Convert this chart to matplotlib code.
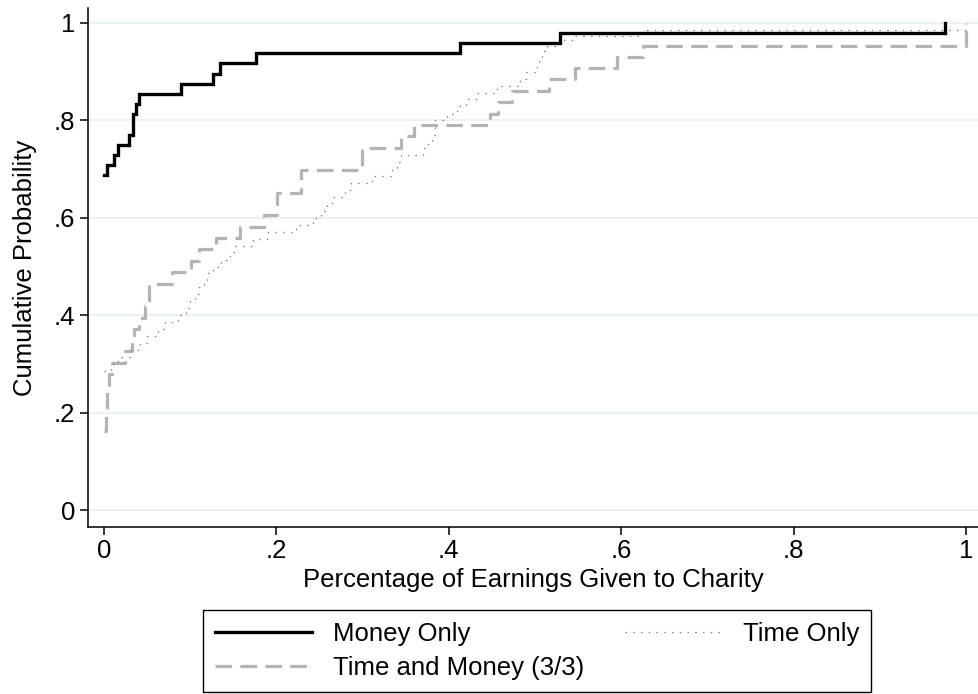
import matplotlib

matplotlib.use("Agg")
import matplotlib.pyplot as plt
from matplotlib.lines import Line2D

plt.rcParams["font.family"] = ["Liberation Sans", "DejaVu Sans"]

money_x = [0.000, 0.004, 0.011, 0.016, 0.029, 0.034, 0.037, 0.041, 0.089,
           0.126, 0.135, 0.176, 0.413, 0.529, 0.976]
money_y = [0.688, 0.708, 0.729, 0.750, 0.771, 0.813, 0.833, 0.854, 0.875,
           0.896, 0.917, 0.938, 0.958, 0.979, 1.000]

time_x = [0.000, 0.008, 0.016, 0.030, 0.042, 0.050, 0.063, 0.071, 0.086, 0.095,
          0.100, 0.106, 0.110, 0.116, 0.120, 0.126, 0.136, 0.146, 0.152, 0.173,
          0.189, 0.223, 0.243, 0.252, 0.259, 0.264, 0.280, 0.286, 0.311, 0.334,
          0.340, 0.345, 0.370, 0.376, 0.380, 0.384, 0.398, 0.410, 0.420, 0.433,
          0.456, 0.482, 0.490, 0.502, 0.505, 0.508, 0.514, 0.523, 0.529, 0.543,
          0.624, 1.000]
time_y = [0.286, 0.300, 0.314, 0.329, 0.343, 0.357, 0.371, 0.386, 0.400, 0.414,
          0.429, 0.443, 0.457, 0.471, 0.486, 0.500, 0.514, 0.529, 0.543, 0.557,
          0.571, 0.586, 0.600, 0.614, 0.629, 0.643, 0.657, 0.671, 0.686, 0.700,
          0.714, 0.729, 0.743, 0.757, 0.771, 0.800, 0.814, 0.829, 0.843, 0.857,
          0.871, 0.886, 0.900, 0.914, 0.929, 0.943, 0.953, 0.960, 0.966, 0.973,
          0.986, 1.000]

both_x = [0.000, 0.002, 0.004, 0.006, 0.009, 0.024, 0.033, 0.035, 0.040, 0.047,
          0.052, 0.079, 0.101, 0.110, 0.130, 0.158, 0.185, 0.201, 0.228, 0.299,
          0.345, 0.360, 0.448, 0.457, 0.473, 0.516, 0.546, 0.595, 0.625, 1.000]
both_y = [0.163, 0.209, 0.256, 0.279, 0.302, 0.326, 0.349, 0.372, 0.395, 0.419,
          0.465, 0.488, 0.512, 0.535, 0.558, 0.581, 0.605, 0.651, 0.698, 0.744,
          0.767, 0.791, 0.814, 0.837, 0.860, 0.884, 0.907, 0.930, 0.953, 1.000]

ticks = [0, 0.2, 0.4, 0.6, 0.8, 1]
tick_labels = ["0", ".2", ".4", ".6", ".8", "1"]

W, H = 979, 694
FS = 18.5
fig = plt.figure(figsize=(W / 100, H / 100), dpi=100)
ax = fig.add_axes([88 / W, 1 - 527 / H, (978 - 88) / W, (527 - 8) / H])

for t in ticks:
    ax.axhline(t, color="#eaf2f3", lw=1.5, zorder=0)

money_style = dict(color="black", lw=2.4, solid_joinstyle="miter")
time_style = dict(color="#808080", lw=0.9, linestyle=(0, (1.2, 5)))
both_style = dict(color="#b4b4b4", lw=2.3, linestyle=(0, (5.2, 2.6)))

ax.step(time_x, time_y, where="post", zorder=3, **time_style)
ax.step(both_x, both_y, where="post", zorder=2, **both_style)
ax.step(money_x, money_y, where="post", zorder=4, **money_style)

ax.set_xlim(-0.0186, 1.0139)
ax.set_ylim(-0.0349, 1.0308)
ax.set_xticks(ticks)
ax.set_xticklabels(tick_labels)
ax.set_yticks(ticks)
ax.set_yticklabels(tick_labels)
ax.tick_params(labelsize=FS, length=6, width=1.1, pad=3, color="black")
for side in ["top", "right"]:
    ax.spines[side].set_visible(False)
for side in ["left", "bottom"]:
    ax.spines[side].set_linewidth(1.1)

ax.set_xlabel("Percentage of Earnings Given to Charity", fontsize=FS, labelpad=3)
ax.set_ylabel("Cumulative Probability", fontsize=FS, labelpad=12.5)

handles = [
    Line2D([], [], **money_style),
    Line2D([], [], **both_style),
    Line2D([], [], **time_style),
]
labels = ["Money Only", "Time and Money (3/3)", "Time Only"]
leg = fig.legend(
    handles, labels,
    loc="lower left",
    bbox_to_anchor=(203 / W, 2 / H, 668 / W, 80 / H),
    mode="expand", ncol=2, fontsize=FS,
    frameon=True, fancybox=False, edgecolor="black", framealpha=1,
    handlelength=3.8, handletextpad=0.8, borderaxespad=0,
    borderpad=0.45, labelspacing=0.42,
)
leg.get_frame().set_linewidth(1.0)

fig.savefig("out.png", dpi=100)
